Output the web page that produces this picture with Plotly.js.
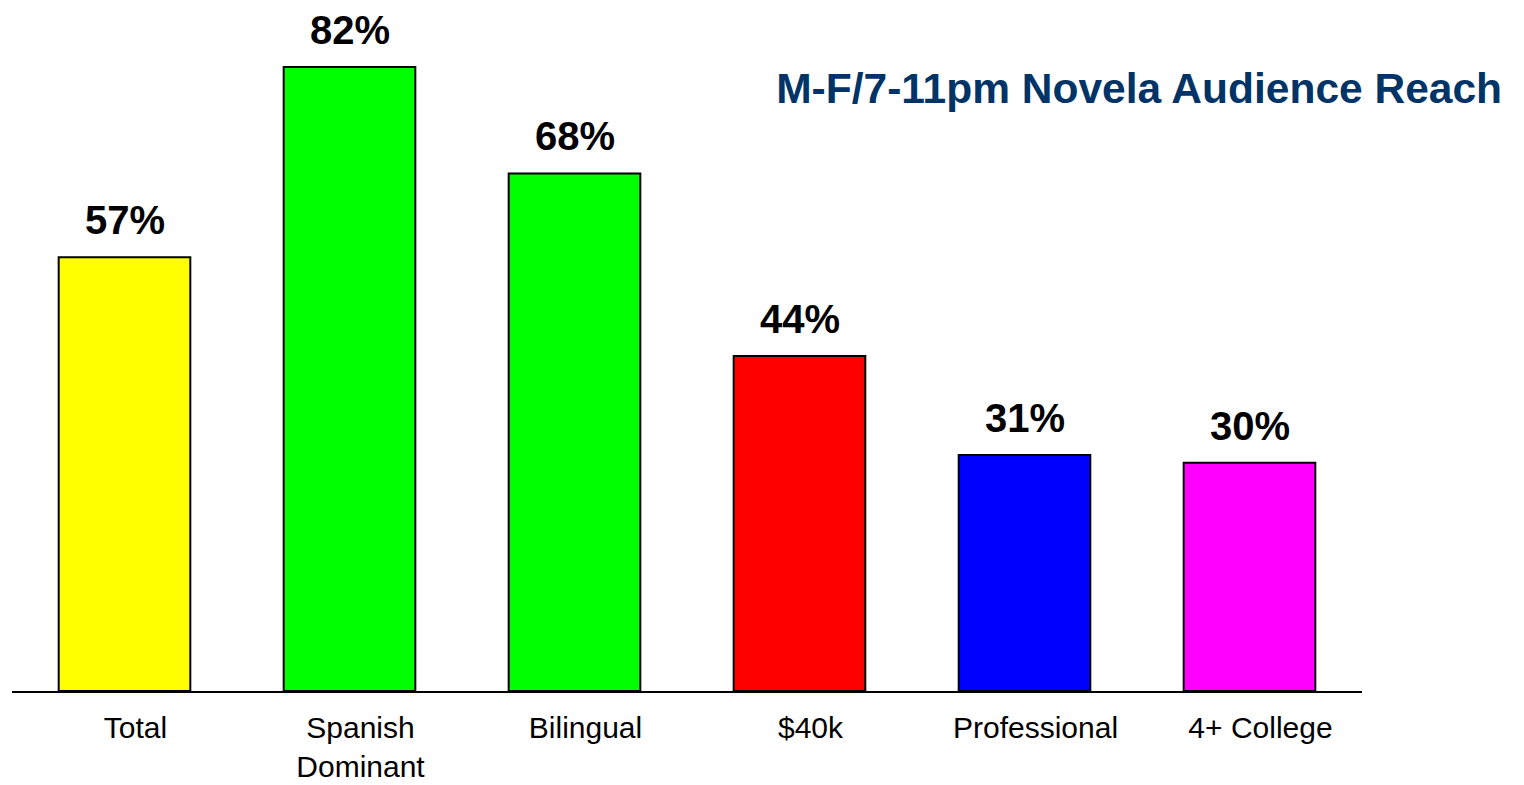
<!DOCTYPE html>
<html>
<head>
<meta charset="utf-8">
<script src="https://cdn.plot.ly/plotly-3.0.1.min.js"></script>
<style>html,body{margin:0;padding:0;background:#fff;}#chart{width:1524px;height:785px;}</style>
</head>
<body>
<div id="chart"></div>
<script>
const categories = ["Total", "Spanish<br>Dominant", "Bilingual", "$40k", "Professional", "4+ College"];
const reach = [57, 82, 68, 44, 31, 30];
const barColors = ["#FFFF00", "#00FF00", "#00FF00", "#FF0000", "#0000FF", "#FF00FF"];
const chartTitle = "M-F/7-11pm Novela Audience Reach";

const FONT = "Liberation Sans, Arial, Helvetica, sans-serif";

const trace = {
  type: "bar",
  x: categories,
  y: reach,
  width: 0.585,
  marker: { color: barColors, line: { color: "#000000", width: 2 } },
  hoverinfo: "x+y"
};

const annotations = categories.map((c, i) => ({
  x: c,
  y: reach[i],
  xref: "x",
  yref: "y",
  text: "<b>" + reach[i] + "%</b>",
  showarrow: false,
  yanchor: "middle",
  yshift: 37,
  font: { family: FONT, size: 40, color: "#000000" }
}));

const layout = {
  width: 1524,
  height: 785,
  margin: { l: 12, r: 162, t: 6, b: 94 },
  paper_bgcolor: "#ffffff",
  plot_bgcolor: "#ffffff",
  showlegend: false,
  title: {
    text: "<b>" + chartTitle + "</b>",
    font: { family: FONT, size: 42.5, color: "#003366" },
    xref: "container",
    yref: "container",
    x: 0.9856,
    xanchor: "right",
    y: 0.888,
    yanchor: "middle"
  },
  xaxis: {
    type: "category",
    range: [-0.5, 5.5],
    showline: true,
    linecolor: "#000000",
    linewidth: 2,
    showgrid: false,
    zeroline: false,
    ticks: "",
    ticklabelstandoff: 9,
    ticklabelshift: 11,
    tickfont: { family: FONT, size: 30, color: "#000000" },
    fixedrange: true
  },
  yaxis: {
    range: [0, 90],
    visible: false,
    showgrid: false,
    zeroline: false,
    fixedrange: true
  },
  annotations: annotations
};

Plotly.newPlot("chart", [trace], layout, { displayModeBar: false, staticPlot: true });
</script>
</body>
</html>
